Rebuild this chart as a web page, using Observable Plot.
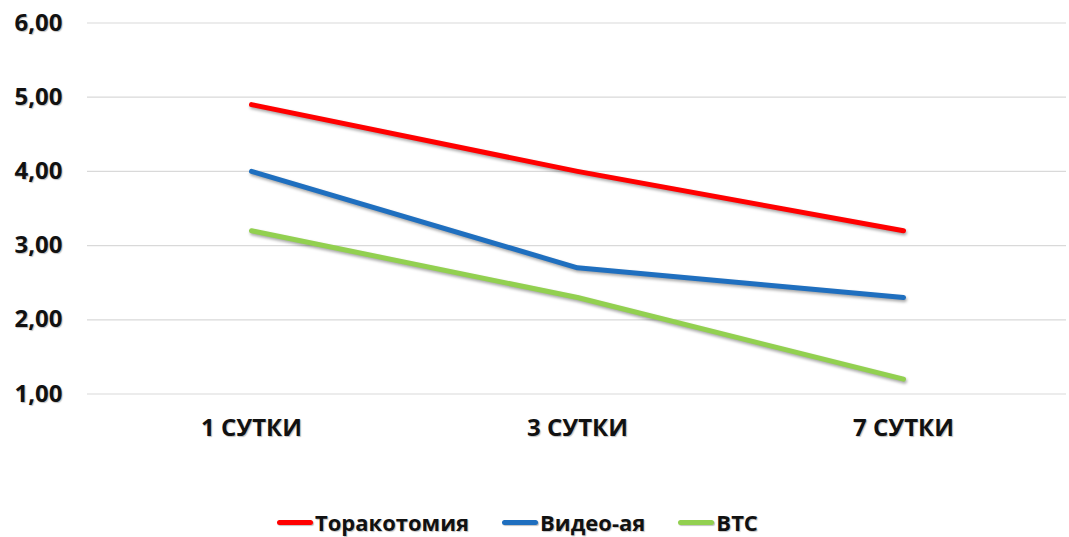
<!DOCTYPE html>
<html>
<head>
<meta charset="utf-8">
<script src="https://cdn.jsdelivr.net/npm/d3@7"></script>
<script src="https://cdn.jsdelivr.net/npm/@observablehq/plot@0.6"></script>
<style>
  html, body { margin: 0; padding: 0; background: #fff; }
  #chart { width: 1069px; height: 537px; position: relative; font-family: "Open Sans", "Noto Sans", sans-serif; }
  .series path { filter: drop-shadow(1px 2px 1.5px rgba(0,0,0,0.35)); }
  .legend { position: absolute; top: 507px; left: 277px; display: flex; gap: 33px;
            font-weight: 700; font-size: 22px; line-height: 30px; color: #111; text-shadow: 1px 1px 1px rgba(0,0,0,0.25);
            white-space: nowrap; }
  .legend span { display: inline-flex; align-items: center; }
  .legend i { display: inline-block; width: 36px; height: 5px; border-radius: 3px; margin-right: 2px;
              box-shadow: 1px 1px 1px rgba(0,0,0,0.25); }
</style>
</head>
<body>
<div id="chart"></div>
<script>
// Days after surgery and mean scores per group
const days = ["1 СУТКИ", "3 СУТКИ", "7 СУТКИ"];
const seriesNames = ["Торакотомия", "Видео-ая", "ВТС"];
const thoracotomy = [4.9, 4.0, 3.2];
const video = [4.0, 2.7, 2.3];
const vts = [3.2, 2.3, 1.2];
const colors = ["#ff0000", "#1f6fbf", "#92d050"];
const yTicks = [1, 2, 3, 4, 5, 6];

const rows = [];
[thoracotomy, video, vts].forEach((vals, i) =>
  vals.forEach((v, j) => rows.push({day: days[j], value: v, group: seriesNames[i]}))
);

const fmt = d => d.toFixed(2).replace(".", ",");

const plot = Plot.plot({
  width: 1069,
  height: 490,
  marginLeft: 87,
  marginRight: 3,
  marginTop: 22.5,
  marginBottom: 96.5,
  style: {fontFamily: "'Open Sans', 'Noto Sans', sans-serif", background: "#fff"},
  x: {type: "point", domain: days, padding: 0.5, label: null},
  y: {domain: [1, 6], label: null},
  color: {domain: seriesNames, range: colors},
  marks: [
    Plot.gridY(yTicks, {stroke: "#d9d9d9", strokeOpacity: 1, strokeWidth: 1.2}),
    Plot.axisY(yTicks, {
      tickSize: 0, tickPadding: 25, tickFormat: fmt, label: null,
      fontSize: 24, fontWeight: 700, fill: "#111"
    }),
    Plot.axisX({
      tickSize: 0, tickPadding: 25, label: null,
      fontSize: 24, fontWeight: 700, fill: "#111"
    }),
    Plot.line(rows, {
      x: "day", y: "value", z: "group", stroke: "group",
      strokeWidth: 5, strokeLinecap: "round", strokeLinejoin: "round",
      className: "series"
    })
  ]
});

const chart = document.getElementById("chart");
chart.appendChild(plot);

d3.selectAll("#chart svg g[aria-label='y-axis tick label'] text, #chart svg g[aria-label='x-axis tick label'] text")
  .style("text-shadow", "1px 1px 1px rgba(0,0,0,0.25)");

const legend = document.createElement("div");
legend.className = "legend";
seriesNames.forEach((name, i) => {
  const s = document.createElement("span");
  const sw = document.createElement("i");
  sw.style.background = colors[i];
  s.appendChild(sw);
  s.appendChild(document.createTextNode(name));
  legend.appendChild(s);
});
chart.appendChild(legend);
</script>
</body>
</html>
